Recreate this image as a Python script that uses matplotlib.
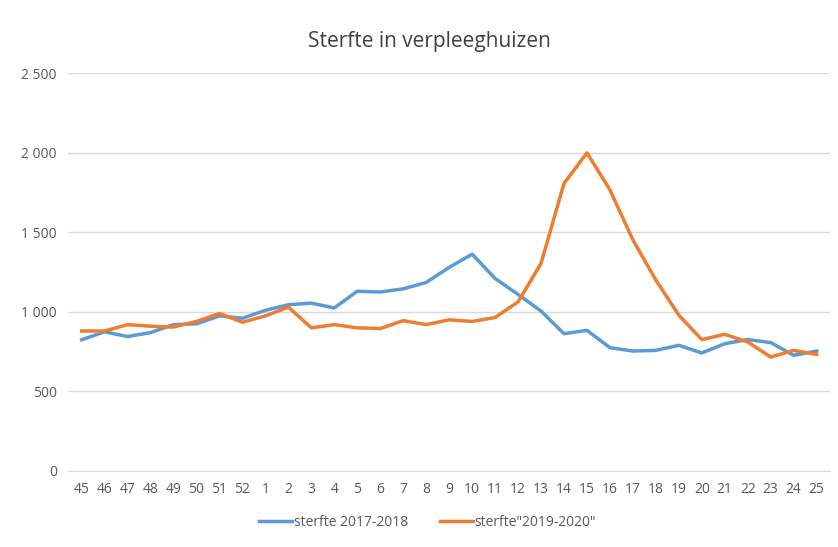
import matplotlib.pyplot as plt
from matplotlib.ticker import FuncFormatter

plt.rcParams['font.family'] = ['Open Sans', 'DejaVu Sans']

weeks = ['45', '46', '47', '48', '49', '50', '51', '52', '1', '2', '3', '4', '5',
         '6', '7', '8', '9', '10', '11', '12', '13', '14', '15', '16', '17', '18',
         '19', '20', '21', '22', '23', '24', '25']

sterfte_2017_2018 = [825, 875, 845, 870, 920, 925, 975, 960, 1010, 1045, 1055, 1025,
                     1130, 1125, 1145, 1185, 1280, 1363, 1210, 1110, 1005, 863, 884,
                     775, 754, 758, 790, 742, 800, 826, 807, 727, 754]
sterfte_2019_2020 = [880, 880, 920, 910, 905, 940, 990, 935, 975, 1030, 900, 920,
                     900, 895, 945, 920, 950, 940, 965, 1063, 1305, 1808, 2000,
                     1767, 1452, 1200, 979, 826, 859, 811, 716, 758, 733]

BLUE = '#5B9BD5'
ORANGE = '#ED7D31'
TXT = '#595959'

fig = plt.figure(figsize=(8.38, 5.47), dpi=100)
ax = fig.add_axes([0.081, 0.139, 0.91, 0.727])

x = range(len(weeks))
ax.plot(x, sterfte_2017_2018, color=BLUE, lw=2.5, label='sterfte 2017-2018', solid_joinstyle='round')
ax.plot(x, sterfte_2019_2020, color=ORANGE, lw=2.5, label='sterfte"2019-2020"', solid_joinstyle='round')

ax.set_xlim(-0.6, len(weeks) - 0.4)
ax.set_ylim(0, 2500)
ax.set_yticks(range(0, 2501, 500))
ax.yaxis.set_major_formatter(FuncFormatter(lambda v, p: f'{int(v):,}'.replace(',', ' ')))
ax.set_xticks(list(x))
ax.set_xticklabels(weeks)

ax.grid(axis='y', color='#d9d9d9', lw=1)
ax.set_axisbelow(True)
for s in ['top', 'right', 'left']:
    ax.spines[s].set_visible(False)
ax.spines['bottom'].set_color('#d9d9d9')
ax.tick_params(length=0, colors=TXT, labelsize=10, pad=8)

fig.text(0.512, 0.925, 'Sterfte in verpleeghuizen', ha='center', va='center',
         fontsize=15, color='#404040')

fig.legend(loc='center', bbox_to_anchor=(0.51, 0.045), ncol=2, frameon=False,
           fontsize=10, labelcolor=TXT, handlelength=2.4, handletextpad=0.1,
           columnspacing=2.3)

fig.savefig('out.png', dpi=100)
